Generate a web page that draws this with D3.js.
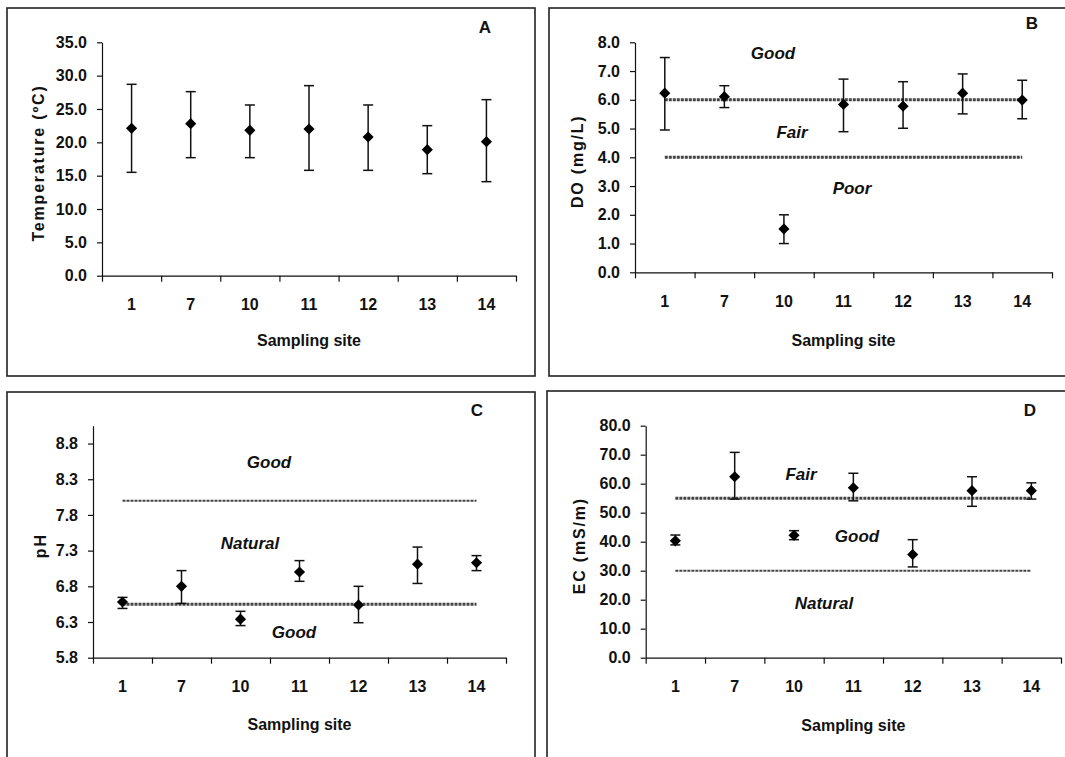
<!DOCTYPE html>
<html>
<head>
<meta charset="utf-8">
<script src="https://cdn.jsdelivr.net/npm/d3@7"></script>
<style>
  body { margin: 0; background: #fff; }
  svg { display: block; font-family: "Liberation Sans", Arial, sans-serif; }
  .axis text { font-size: 16px; font-weight: bold; fill: #111; }
  .axis path, .axis line { stroke: #111; stroke-width: 1.2; }
</style>
</head>
<body>
<div id="chart"></div>
<script>
// sampling sites (x categories)
const sites = ['1', '7', '10', '11', '12', '13', '14'];

// A - temperature
const tempMean = [22.1, 22.8, 21.8, 22.0, 20.8, 18.9, 20.1];
const tempHigh = [28.7, 27.6, 25.6, 28.5, 25.6, 22.5, 26.4];
const tempLow  = [15.5, 17.7, 17.7, 15.8, 15.8, 15.3, 14.1];
const tempTicks = [0, 5, 10, 15, 20, 25, 30, 35];

// B - dissolved oxygen
const doMean = [6.23, 6.11, 1.51, 5.84, 5.78, 6.23, 5.99];
const doHigh = [7.47, 6.49, 2.0, 6.72, 6.63, 6.9, 6.68];
const doLow  = [4.95, 5.73, 1.0, 4.89, 5.01, 5.51, 5.34];
const doTicks = [0, 1, 2, 3, 4, 5, 6, 7, 8];
const doLimits = [6.0, 4.0];

// C - pH
const phMean = [6.58, 6.80, 6.34, 7.00, 6.54, 7.11, 7.13];
const phHigh = [6.645, 7.02, 6.45, 7.16, 6.80, 7.35, 7.23];
const phLow  = [6.49, 6.56, 6.25, 6.87, 6.29, 6.84, 7.02];
const phTicks = [5.8, 6.3, 6.8, 7.3, 7.8, 8.3, 8.8];
const phLimits = [8.0, 6.55];

// D - electrical conductivity
const ecMean = [40.3, 62.4, 42.2, 58.6, 35.6, 57.6, 57.6];
const ecHigh = [42.3, 70.8, 43.8, 63.6, 40.7, 62.4, 60.3];
const ecLow  = [38.9, 54.7, 40.7, 54.1, 31.3, 52.2, 54.7];
const ecTicks = [0, 10, 20, 30, 40, 50, 60, 70, 80];
const ecLimits = [55, 30];

const W = 1065, H = 757;
const svg = d3.select('#chart').append('svg')
    .attr('width', W)
    .attr('height', H);

const panels = [
    {
        letter: 'A', title: 'Temperature (ºC)',
        mean: tempMean, high: tempHigh, low: tempLow, ticks: tempTicks, fmt: d3.format('.1f'),
        domain: [0, 35], limits: [], limitWidths: [],
        box: [7, 8, 528, 368], left: 102, right: 516, top: 42.3, bottom: 275.7,
        titleX: 38, letterPos: [485, 27], siteY: 346,
        notes: []
    },
    {
        letter: 'B', title: 'DO (mg/L)',
        mean: doMean, high: doHigh, low: doLow, ticks: doTicks, fmt: d3.format('.1f'),
        domain: [0, 8], limits: doLimits, limitWidths: [3, 3],
        box: [549, 8, 530, 368], left: 635, right: 1052, top: 42.3, bottom: 272.3,
        titleX: 577, letterPos: [1032, 23], siteY: 346,
        notes: [['Good', 773, 53], ['Fair', 792, 132], ['Poor', 852, 188]]
    },
    {
        letter: 'C', title: 'pH',
        mean: phMean, high: phHigh, low: phLow, ticks: phTicks, fmt: d3.format('.1f'),
        domain: [5.8, 9.05], limits: phLimits, limitWidths: [2, 3],
        box: [7, 392, 528, 400], left: 93, right: 506, top: 425.7, bottom: 657.7,
        titleX: 40, letterPos: [477, 410], siteY: 730,
        notes: [['Good', 269, 462], ['Natural', 250, 543], ['Good', 294, 632]]
    },
    {
        letter: 'D', title: 'EC (mS/m)',
        mean: ecMean, high: ecHigh, low: ecLow, ticks: ecTicks, fmt: d3.format('.1f'),
        domain: [0, 80], limits: ecLimits, limitWidths: [3, 2],
        box: [547, 391, 530, 400], left: 645.7, right: 1061, top: 425.7, bottom: 657.7,
        titleX: 579, letterPos: [1030, 410], siteY: 731,
        notes: [['Fair', 801, 474], ['Good', 857, 536], ['Natural', 824, 603]]
    }
];

panels.forEach(drawPanel);

function drawPanel(p) {
    const g = svg.append('g');

    // frame
    g.append('rect')
        .attr('x', p.box[0])
        .attr('y', p.box[1])
        .attr('width', p.box[2])
        .attr('height', p.box[3])
        .attr('fill', 'none')
        .attr('stroke', '#222')
        .attr('stroke-width', 1.6);

    const x = d3.scaleBand()
        .domain(sites)
        .range([p.left, p.right])
        .padding(0);

    const y = d3.scaleLinear()
        .domain(p.domain)
        .range([p.bottom, p.top]);

    // y axis
    g.append('g')
        .attr('class', 'axis')
        .attr('transform', `translate(${p.left},0)`)
        .call(d3.axisLeft(y).tickValues(p.ticks).tickFormat(p.fmt).tickSizeInner(5).tickSizeOuter(0).tickPadding(10));

    // x axis: tick marks at band edges
    const edges = d3.scaleLinear().domain([0, sites.length]).range([p.left, p.right]);
    g.append('g')
        .attr('class', 'axis')
        .attr('transform', `translate(0,${p.bottom})`)
        .call(d3.axisBottom(edges).tickValues(d3.range(sites.length + 1)).tickFormat('').tickSizeInner(6).tickSizeOuter(0));

    // x axis: category labels
    const xl = g.append('g')
        .attr('class', 'axis')
        .attr('transform', `translate(0,${p.bottom})`)
        .call(d3.axisBottom(x).tickSize(0).tickPadding(23));
    xl.select('.domain').remove();

    // axis titles
    g.append('text')
        .attr('x', (p.left + p.right) / 2)
        .attr('y', p.siteY)
        .attr('text-anchor', 'middle')
        .attr('font-size', 16)
        .attr('font-weight', 'bold')
        .attr('fill', '#111')
        .text('Sampling site');

    g.append('text')
        .attr('transform', `translate(${p.titleX},${(p.top + p.bottom) / 2 + 4}) rotate(-90)`)
        .attr('text-anchor', 'middle')
        .attr('dy', '0.35em')
        .attr('font-size', 16)
        .attr('font-weight', 'bold')
        .attr('letter-spacing', 1.8)
        .attr('fill', '#111')
        .text(p.title);

    // panel letter
    g.append('text')
        .attr('x', p.letterPos[0])
        .attr('y', p.letterPos[1])
        .attr('text-anchor', 'middle')
        .attr('dy', '0.35em')
        .attr('font-size', 17)
        .attr('font-weight', 'bold')
        .attr('fill', '#111')
        .text(p.letter);

    // class limit lines
    const x0 = x(sites[0]) + x.bandwidth() / 2;
    const x1 = x(sites[sites.length - 1]) + x.bandwidth() / 2;
    p.limits.forEach((v, i) => {
        g.append('line')
            .attr('x1', x0)
            .attr('x2', x1)
            .attr('y1', y(v))
            .attr('y2', y(v))
            .attr('stroke', '#444')
            .attr('stroke-width', p.limitWidths[i])
            .attr('stroke-dasharray', '3,1');
    });

    // class labels
    p.notes.forEach(n => {
        g.append('text')
            .attr('x', n[1])
            .attr('y', n[2])
            .attr('text-anchor', 'middle')
            .attr('dy', '0.35em')
            .attr('font-size', 17)
            .attr('font-weight', 'bold')
            .attr('font-style', 'italic')
            .attr('fill', '#111')
            .text(n[0]);
    });

    const rows = sites.map((s, i) => ({ site: s, mean: p.mean[i], high: p.high[i], low: p.low[i] }));
    const cx = d => x(d.site) + x.bandwidth() / 2;
    const cap = 5;

    // error bars
    const eb = g.selectAll('.err')
        .data(rows)
        .enter()
        .append('g')
        .attr('stroke', '#111')
        .attr('stroke-width', 1.5);

    eb.append('line')
        .attr('x1', cx).attr('x2', cx)
        .attr('y1', d => y(d.high)).attr('y2', d => y(d.low));
    eb.append('line')
        .attr('x1', d => cx(d) - cap).attr('x2', d => cx(d) + cap)
        .attr('y1', d => y(d.high)).attr('y2', d => y(d.high));
    eb.append('line')
        .attr('x1', d => cx(d) - cap).attr('x2', d => cx(d) + cap)
        .attr('y1', d => y(d.low)).attr('y2', d => y(d.low));

    // diamond markers
    g.selectAll('.pt')
        .data(rows)
        .enter()
        .append('path')
        .attr('d', d3.symbol().type(d3.symbolSquare).size(62))
        .attr('transform', d => `translate(${cx(d)},${y(d.mean)}) rotate(45)`)
        .attr('fill', '#000');
}
</script>
</body>
</html>
